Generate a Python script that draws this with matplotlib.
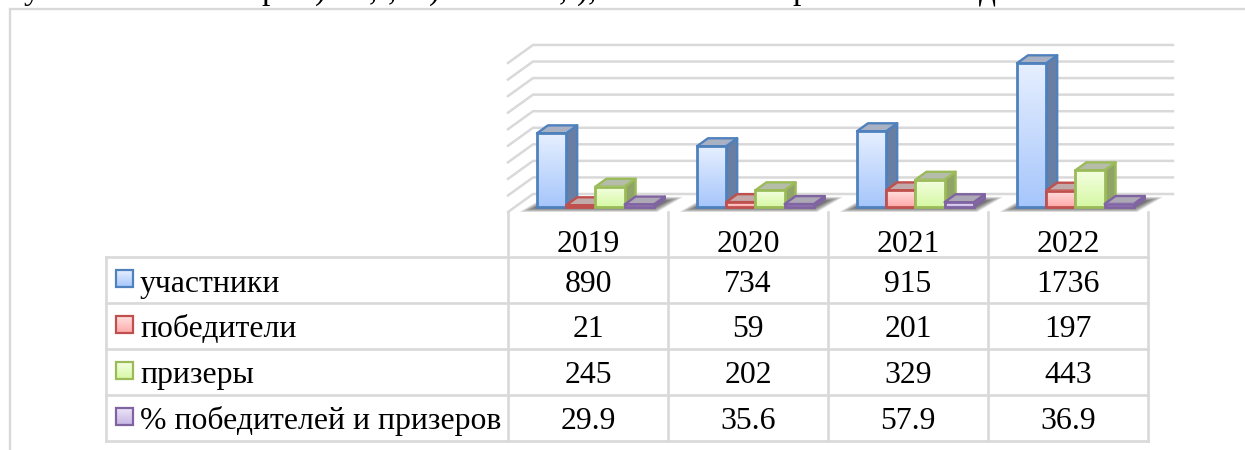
#!/usr/bin/env python
"""3D-looking bar chart with a data table below it, drawn in plain matplotlib"""

# %% import modules
import numpy as np
import matplotlib
matplotlib.use("Agg")
import matplotlib.pyplot as plt
from matplotlib.colors import LinearSegmentedColormap
from matplotlib.patches import Polygon, Rectangle

# %% data
years = ["2019", "2020", "2021", "2022"]
series_names = ["участники", "победители", "призеры", "% победителей и призеров"]
participants = [890, 734, 915, 1736]
winners = [21, 59, 201, 197]
prize_winners = [245, 202, 329, 443]
percent = [29.9, 35.6, 57.9, 36.9]
grid_values = [0, 200, 400, 600, 800, 1000, 1200, 1400, 1600, 1800]
# cut off line of running text above the chart (only the descenders are visible)
cut_text = ["у", "р", ")", ",", ",", ")", ",", ")", ",", "р", "д"]
cut_text_x = [32, 270, 320, 373, 392, 435, 563, 583, 592, 801, 987]

# %% styles: edge, gradient top, gradient bottom, side top, side bottom, roof
styles = [
    ("#4f81bd", "#e6efff", "#a6c6fb", "#979eab", "#687ea3", "#a9b1c2"),
    ("#c0504d", "#ffe0e0", "#ffa9a9", "#a89090", "#a07070", "#c2aaaa"),
    ("#9bbb59", "#f4ffe2", "#d6f8a4", "#a8b094", "#90a468", "#b6bcaa"),
    ("#8064a2", "#ece4f8", "#c6b6e4", "#a096b0", "#806a9e", "#ada8b6"),
]
values = [participants, winners, prize_winners, percent]
grid_color = "#d9d9d9"
plt.rcParams["font.family"] = ["Liberation Serif", "DejaVu Serif"]
W, H = 1245, 450


def gradient(axis, x0, x1, y0, y1, top, bottom, zorder):
    cmap = LinearSegmentedColormap.from_list("g", [top, bottom])
    axis.imshow(np.linspace(0, 1, 64)[:, None], cmap=cmap, aspect="auto", extent=(x0, x1, y0, y1),
                origin="upper", zorder=zorder, clip_on=False, interpolation="bilinear")


# %% figure and overlay axes in pixels for frame and table
fig = plt.figure(figsize=(W / 100, H / 100), dpi=100)
tab = fig.add_axes([0, 0, 1, 1])
tab.set_xlim(0, W)
tab.set_ylim(H, 0)
tab.axis("off")

# outer frame
tab.plot([9.5, 9.5, W], [H, 8.5, 8.5], color=grid_color, lw=1.7, solid_joinstyle="miter")

# running text cut by the picture's top edge
for s, x in zip(cut_text, cut_text_x):
    tab.text(x, -1, s, fontsize=24, ha="center", va="baseline", color="black", clip_on=True)

# table lines
col_x = [508, 668, 828, 988, 1148]
row_y = [257, 303, 349, 395, 441]
for x in col_x:
    tab.plot([x, x], [212, row_y[-1]], color=grid_color, lw=1.9)
for y in row_y:
    tab.plot([106, col_x[-1]], [y, y], color=grid_color, lw=1.9)
tab.plot([106, 106], [row_y[0], row_y[-1]], color=grid_color, lw=1.9)

# table text
font = 22.9
centers = [588, 748, 908, 1068]
for x, year in zip(centers, years):
    tab.text(x, 252, year, fontsize=font, ha="center", va="baseline")
baselines = [292, 337, 383, 429]
for i, name in enumerate(series_names):
    tab.text(140, baselines[i], name, fontsize=font, ha="left", va="baseline")
    for x, v in zip(centers, values[i]):
        tab.text(x, baselines[i], str(v), fontsize=font, ha="center", va="baseline")
    # legend key
    top = row_y[0] + 13 + i * 46
    st = styles[i]
    gradient(tab, 115.5, 132.5, top + 17, top, st[1], st[2], 3)
    tab.add_patch(Rectangle((115.5, top), 17, 17, fill=False, ec=st[0], lw=1.6, zorder=4))
tab.set_xlim(0, W)
tab.set_ylim(H, 0)

# %% chart axes: x in categories, y in values, front floor edge at pixel y=212
px_per_unit = 0.0828
x_scale = 160  # pixels per category
ax_height = 2400 * px_per_unit
ax = fig.add_axes([508 / W, (H - 212) / H, 640 / W, ax_height / H])
ax.patch.set_alpha(0)
ax.axis("off")
dx_total = 25 / x_scale
dy_total = 18 / px_per_unit


def proj(x, v, depth):
    return x + depth * dx_total, v + depth * dy_total


# back wall grid and side wall diagonals
for g in grid_values:
    xa, ya = proj(0, g, 0)
    xb, yb = proj(0, g, 1)
    xc, yc = proj(4, g, 1)
    ax.plot([xa, xb, xc], [ya, yb, yc], color=grid_color, lw=1.8, clip_on=False, zorder=1,
            solid_joinstyle="miter")

# bars
bar_w = 29.2 / x_scale
start = 22 / x_scale
front, back = 0.28, 0.72
z = 3
for c in range(len(years)):
    # soft shadow on the floor
    for k in range(8):
        pad = (8 - k) * 2.2 / x_scale
        xl = c + start - pad * 0.6
        xr = c + start + 4 * bar_w + pad * 0.6
        d0, d1 = front - 0.04 - (8 - k) * 0.03, back - 0.12 + (8 - k) * 0.03
        pts = [proj(xl, 0, d0), proj(xr, 0, d0), proj(xr + 0.03, 0, d1), proj(xl + 0.03, 0, d1)]
        ax.add_patch(Polygon(pts, closed=True, fc="#202020", ec="none", alpha=0.11, zorder=2, clip_on=False))
    for s in range(len(series_names)):
        v = values[s][c]
        st = styles[s]
        x0 = c + start + s * bar_w
        x1 = x0 + bar_w
        # side face
        side = [proj(x1, 0, front), proj(x1, 0, back), proj(x1, v, back), proj(x1, v, front)]
        ax.add_patch(Polygon(side, closed=True, fc=st[4], ec=st[0], lw=1.7, zorder=z, clip_on=False,
                             joinstyle="round"))
        # roof
        roof = [proj(x0, v, front), proj(x1, v, front), proj(x1, v, back), proj(x0, v, back)]
        ax.add_patch(Polygon(roof, closed=True, fc=st[5], ec=st[0], lw=1.7, zorder=z + 1, clip_on=False,
                             joinstyle="round"))
        # front face with gradient
        fx0, fy0 = proj(x0, 0, front)
        fx1, fy1 = proj(x1, v, front)
        gradient(ax, fx0, fx1, fy0, fy1, st[1], st[2], z + 2)
        ax.add_patch(Rectangle((fx0, fy0), fx1 - fx0, fy1 - fy0, fill=False, ec=st[0], lw=2.0,
                               zorder=z + 3, clip_on=False))
        z += 4
ax.set_xlim(0, 4)
ax.set_ylim(0, 2400)

# %% save
plt.savefig("out.png", dpi=100)
plt.close()
